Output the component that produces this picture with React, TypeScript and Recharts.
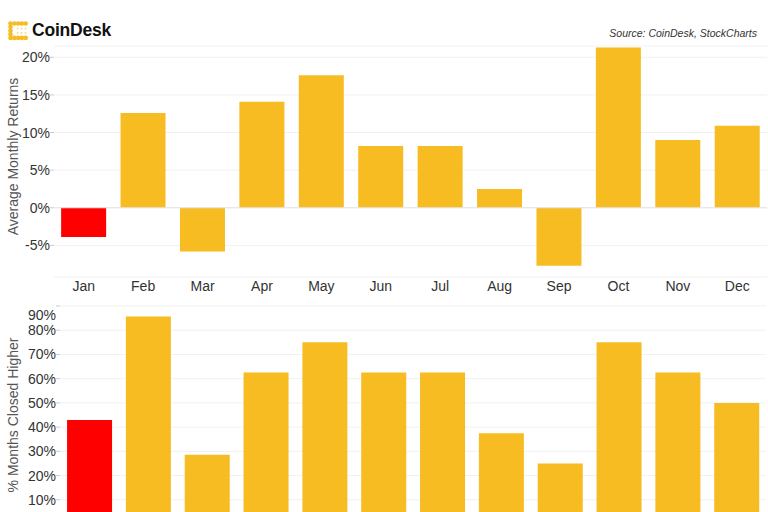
import React from 'react';
import { BarChart, Bar, Cell, XAxis, YAxis, CartesianGrid, ReferenceLine } from 'recharts';

const months = ['Jan', 'Feb', 'Mar', 'Apr', 'May', 'Jun', 'Jul', 'Aug', 'Sep', 'Oct', 'Nov', 'Dec'];
const avgReturns = [-3.9, 12.6, -5.8, 14.1, 17.6, 8.2, 8.2, 2.5, -7.7, 21.3, 9.0, 10.9];
const pctHigher = [42.9, 85.7, 28.6, 62.5, 75, 62.5, 62.5, 37.5, 25, 75, 62.5, 50];
const returnTicks = [-5, 0, 5, 10, 15, 20];
const higherTicks = [10, 20, 30, 40, 50, 60, 70, 80, 90];
const highlightMonth = 'Jan';

const YELLOW = '#F7BC22';
const RED = '#FF0000';
const FONT = '"Liberation Sans", Arial, Helvetica, sans-serif';
const TEXT = '#333';

const topData = months.map((m, i) => ({ month: m, value: avgReturns[i] }));
const bottomData = months.map((m, i) => ({ month: m, value: pctHigher[i] }));
const boundaries = months.map((_, i) => i).concat(months.length);

const yTitle = (value: string, shift = 0) => (props: any) => {
  const { y, height } = props.viewBox;
  const cy = y + height / 2 + shift;
  return (
    <text
      transform={`translate(13, ${cy}) rotate(-90)`}
      textAnchor="middle"
      dominantBaseline="central"
      fontSize={14}
      fill="#555"
      fontFamily={FONT}
    >
      {value}
    </text>
  );
};

// the top label of the lower chart sits a bit lower than its tick in the original
const pctTick = (nudgeTop?: number) => (props: any) => {
  const { x, y, payload } = props;
  const dy = nudgeTop !== undefined && payload.value === nudgeTop ? 9 : 0;
  return (
    <text x={x} y={y + dy} dy="0.355em" textAnchor="end" fontSize={14} fill={TEXT} fontFamily={FONT}>
      {`${payload.value}%`}
    </text>
  );
};

function Logo() {
  const dots: [number, number][] = [];
  for (let i = 0; i < 5; i++) dots.push([2.5, 2.5 + i * 3.6]);
  for (let i = 1; i < 5; i++) dots.push([2.5 + i * 3.8, 2.5]);
  for (let i = 1; i < 5; i++) dots.push([2.5 + i * 3.8, 16.9]);
  const faint: [number, number][] = [[9.5, 7.5], [13.5, 7.5], [9.5, 12], [13.5, 12], [17.5, 7.5], [17.5, 12]];
  return (
    <svg width={22} height={20} style={{ position: 'absolute', left: 8, top: 21 }}>
      {dots.map(([cx, cy], i) => (
        <circle key={i} cx={cx} cy={cy} r={2.3} fill={YELLOW} />
      ))}
      {faint.map(([cx, cy], i) => (
        <circle key={'f' + i} cx={cx} cy={cy} r={1} fill="#F6DB92" />
      ))}
    </svg>
  );
}

export default function App() {
  return (
    <div
      style={{
        position: 'absolute',
        left: 0,
        top: 0,
        width: 768,
        height: 512,
        overflow: 'hidden',
        background: '#fff',
        fontFamily: FONT,
      }}
    >
      <Logo />
      <div
        style={{
          position: 'absolute',
          left: 32,
          top: 20,
          fontSize: 17.5,
          fontWeight: 'bold',
          color: '#111',
          letterSpacing: -0.2,
        }}
      >
        CoinDesk
      </div>
      <div
        style={{
          position: 'absolute',
          right: 11,
          top: 27,
          fontSize: 10.5,
          fontStyle: 'italic',
          color: TEXT,
        }}
      >
        Source: CoinDesk, StockCharts
      </div>

      <div style={{ position: 'absolute', left: 0, top: 0 }}>
        <BarChart
          width={768}
          height={307}
          data={topData}
          margin={{ top: 46, right: 1, bottom: 0, left: 0 }}
          barCategoryGap="12%"
        >
          <CartesianGrid vertical={false} stroke="#f1f1f1" />
          <XAxis
            xAxisId="bounds"
            type="number"
            domain={[0, months.length]}
            ticks={boundaries}
            height={0}
            tick={() => <g />}
            tickSize={4}
            tickLine={{ stroke: '#bbb' }}
            axisLine={{ stroke: '#bbb' }}
            allowDataOverflow
          />
          <XAxis
            dataKey="month"
            height={30}
            axisLine={false}
            tickLine={false}
            tickSize={2}
            tickMargin={2}
            tick={{ fontSize: 14, fill: TEXT, fontFamily: FONT }}
            interval={0}
          />
          <YAxis
            width={54}
            domain={[-9.2, 21.5]}
            ticks={returnTicks}
            allowDataOverflow
            axisLine={false}
            tickSize={4}
            tickMargin={0}
            tickLine={{ stroke: '#ccc' }}
            tick={pctTick()}
            label={{ content: yTitle('Average Monthly Returns', -5) }}
          />
          <ReferenceLine y={0} stroke="#e4e4e4" />
          <Bar dataKey="value" isAnimationActive={false}>
            {topData.map((d) => (
              <Cell key={d.month} fill={d.month === highlightMonth ? RED : YELLOW} />
            ))}
          </Bar>
        </BarChart>
      </div>

      <div style={{ position: 'absolute', left: 0, top: 290 }}>
        <BarChart
          width={768}
          height={264}
          data={bottomData}
          margin={{ top: 16, right: 2, bottom: 30, left: 0 }}
          barCategoryGap="12%"
        >
          <CartesianGrid vertical={false} stroke="#f1f1f1" />
          <XAxis dataKey="month" hide />
          <YAxis
            width={60}
            domain={[0, 90]}
            ticks={higherTicks}
            allowDataOverflow
            axisLine={false}
            tickSize={4}
            tickMargin={0}
            tickLine={{ stroke: '#ccc' }}
            tick={pctTick(90)}
            label={{ content: yTitle('% Months Closed Higher') }}
          />
          <Bar dataKey="value" isAnimationActive={false}>
            {bottomData.map((d) => (
              <Cell key={d.month} fill={d.month === highlightMonth ? RED : YELLOW} />
            ))}
          </Bar>
        </BarChart>
      </div>
    </div>
  );
}
